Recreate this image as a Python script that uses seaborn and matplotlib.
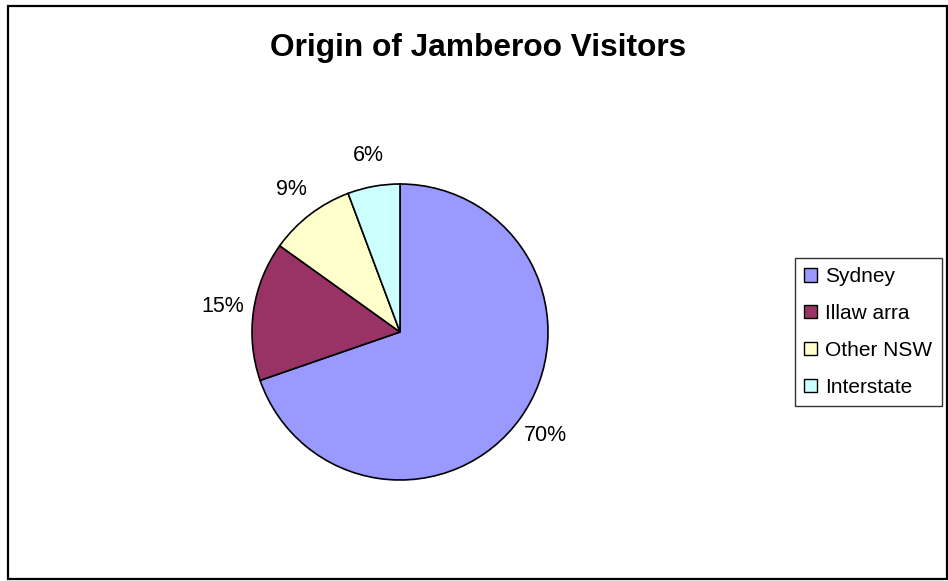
import matplotlib
matplotlib.use("Agg")
import matplotlib.pyplot as plt
import seaborn as sns
from matplotlib.patches import Rectangle

# Data
regions = ["Sydney", "Illaw arra", "Other NSW", "Interstate"]
shares = [69.7, 15.2, 9.4, 5.7]
colors = ["#9999FF", "#993366", "#FFFFCC", "#CCFFFF"]

sns.set_theme(style="white")
plt.rcParams["font.family"] = ["Liberation Sans", "DejaVu Sans"]
plt.rcParams["text.color"] = "black"

W, H = 948, 581
fig = plt.figure(figsize=(W / 100, H / 100), dpi=100)
fig.patch.set_facecolor("white")

# outer chart-area frame
fig.add_artist(Rectangle((8 / W, 2 / H), (W - 9) / W, (H - 7.5) / H,
                         transform=fig.transFigure, fill=False,
                         edgecolor="black", linewidth=1.6))

# pie centred at (400, 332) px with radius 148 px
cx, cy, r = 400, 332, 148
ax = fig.add_axes([(cx - r) / W, (H - cy - r) / H, 2 * r / W, 2 * r / H])
wedges, texts, autotexts = ax.pie(
    shares,
    colors=colors,
    startangle=90,
    counterclock=False,
    autopct="%.0f%%",
    pctdistance=1.21,
    wedgeprops=dict(edgecolor="black", linewidth=1.2),
    textprops=dict(fontsize=15.5, color="black"),
    radius=1.0,
)
ax.set_xlim(-1.0, 1.0)
ax.set_ylim(-1.0, 1.0)
ax.set_aspect("equal")
ax.axis("off")

fig.text(478 / W, 1 - 48 / H, "Origin of Jamberoo Visitors",
         ha="center", va="center", fontsize=22.8, fontweight="bold",
         color="black")

leg = fig.legend(wedges, regions, loc="center left",
                 bbox_to_anchor=(795 / W, 1 - 332 / H),
                 fontsize=15.0, frameon=True, fancybox=False,
                 handlelength=0.6, handleheight=0.6, handletextpad=0.4,
                 labelspacing=0.85, borderpad=0.45, borderaxespad=0,
                 labelcolor="black")
leg.get_frame().set_edgecolor("black")
leg.get_frame().set_linewidth(1.0)
for h in leg.legend_handles:
    h.set_linewidth(1.0)

fig.savefig("out.png", dpi=100)
